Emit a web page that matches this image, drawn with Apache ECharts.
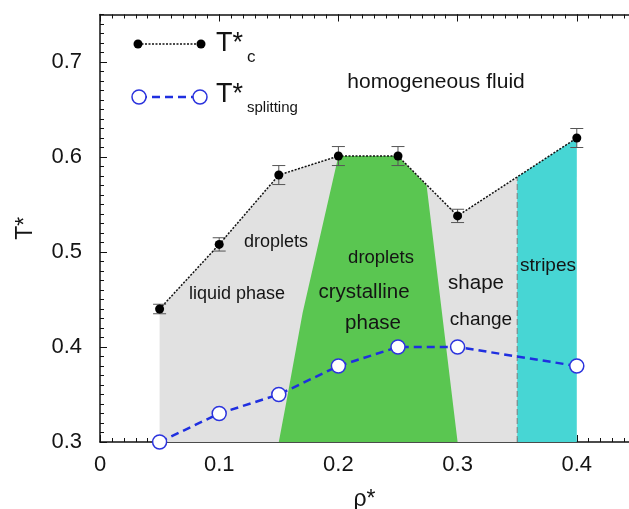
<!DOCTYPE html>
<html>
<head>
<meta charset="utf-8">
<script src="https://cdn.jsdelivr.net/npm/echarts@6/dist/echarts.min.js"></script>
<style>
  html, body { margin: 0; padding: 0; background: #fff; }
  #chart { width: 629px; height: 509px; }
</style>
</head>
<body>
<div id="chart"></div>
<script>
// Reduced density and temperature of the measured points
const rho = [0.05, 0.1, 0.15, 0.2, 0.25, 0.3, 0.4];
const tCritical = [0.44, 0.508, 0.581, 0.601, 0.601, 0.538, 0.62];
const tCriticalErr = [0.005, 0.007, 0.01, 0.01, 0.01, 0.007, 0.01];
const tSplitting = [0.30, 0.33, 0.35, 0.38, 0.40, 0.40, 0.38];

// Phase regions as (rho, T) outlines
const liquidRegion = [[0.05, 0.3], [0.05, 0.44], [0.1, 0.508], [0.15, 0.581], [0.2, 0.601],
                      [0.25, 0.601], [0.3, 0.538], [0.35, 0.579], [0.35, 0.3]];
const crystalRegion = [[0.15, 0.3], [0.156, 0.34], [0.17, 0.436], [0.2, 0.601], [0.25, 0.601],
                       [0.274, 0.57], [0.3, 0.3]];
const stripesRegion = [[0.35, 0.3], [0.35, 0.579], [0.4, 0.62], [0.4, 0.3]];
const stripesEdge = [[0.35, 0.3], [0.35, 0.579]];

// axis extents (the frame runs up to the right edge of the view)
const X_MIN = 0, X_MAX = 0.4438;
const Y_MIN = 0.3, Y_MAX = 0.75;

const FONT = 'Liberation Sans, Arial, Helvetica, sans-serif';
const TEXT = '#141414';

const chart = echarts.init(document.getElementById('chart'), null, { renderer: 'canvas' });

function regionSeries(points, color, z) {
  return {
    type: 'custom',
    z: z,
    silent: true,
    data: points,
    renderItem: function (params, api) {
      if (params.dataIndex !== 0) return null;
      return {
        type: 'polygon',
        shape: { points: points.map(p => api.coord(p)) },
        style: { fill: color, stroke: null }
      };
    }
  };
}

const labelFormatter = v => (Math.abs(v * 10 - Math.round(v * 10)) < 1e-6 ? String(+v.toFixed(1)) : '');

const tickAxisBase = {
  min: X_MIN, max: X_MAX, type: 'value',
  axisLine: { show: false }, splitLine: { show: false }, axisLabel: { show: false }
};
const yTickBase = {
  min: Y_MIN, max: Y_MAX, type: 'value',
  axisLine: { show: false }, splitLine: { show: false }, axisLabel: { show: false }
};

const option = {
  animation: false,
  backgroundColor: '#fff',
  grid: { left: 100, right: 0, top: 14.5, bottom: 67, containLabel: false, outerBoundsMode: 'none' },
  xAxis: [
    {
      type: 'value', position: 'bottom', min: X_MIN, max: X_MAX, interval: 0.1,
      name: 'ρ*', nameLocation: 'middle', nameGap: 46,
      nameTextStyle: { fontFamily: FONT, fontSize: 23, color: TEXT },
      axisLine: { show: true, lineStyle: { color: '#111', width: 1.5 } },
      axisTick: { show: true, inside: true, length: 7, lineStyle: { color: '#111', width: 1 } },
      axisLabel: {
        show: true, margin: 12, fontFamily: FONT, fontSize: 22, color: TEXT,
        showMaxLabel: false, formatter: labelFormatter
      },
      splitLine: { show: false }
    },
    Object.assign({}, tickAxisBase, {
      position: 'bottom', interval: 0.01,
      axisTick: { show: true, inside: true, length: 4, lineStyle: { color: '#111', width: 1 } }
    }),
    Object.assign({}, tickAxisBase, {
      position: 'top', interval: 0.1,
      axisLine: { show: true, lineStyle: { color: '#111', width: 1.5 } },
      axisTick: { show: true, inside: true, length: 7, lineStyle: { color: '#111', width: 1 } }
    }),
    Object.assign({}, tickAxisBase, {
      position: 'top', interval: 0.01,
      axisTick: { show: true, inside: true, length: 4, lineStyle: { color: '#111', width: 1 } }
    })
  ],
  yAxis: [
    {
      type: 'value', position: 'left', min: Y_MIN, max: Y_MAX, interval: 0.1,
      name: 'T*', nameLocation: 'middle', nameGap: 63, nameRotate: 90,
      nameTextStyle: { fontFamily: FONT, fontSize: 23, color: TEXT },
      axisLine: { show: true, lineStyle: { color: '#111', width: 1.5 } },
      axisTick: { show: true, inside: true, length: 7, lineStyle: { color: '#111', width: 1 } },
      axisLabel: {
        show: true, margin: 18, fontFamily: FONT, fontSize: 22, color: TEXT,
        showMaxLabel: false, formatter: labelFormatter
      },
      splitLine: { show: false }
    },
    Object.assign({}, yTickBase, {
      position: 'left', interval: 0.01,
      axisTick: { show: true, inside: true, length: 4, lineStyle: { color: '#111', width: 1 } }
    })
  ],
  series: [
    regionSeries(liquidRegion, '#e1e1e1', 1),
    regionSeries(crystalRegion, '#5ac651', 2),
    regionSeries(stripesRegion, '#47d6d4', 3),
    {
      type: 'line', z: 4, silent: true, symbol: 'none',
      data: stripesEdge,
      lineStyle: { color: '#7a7a7a', width: 1, type: [6, 3] }
    },
    {
      // error bars on the critical temperature
      type: 'custom', z: 5, silent: true,
      data: rho.map((r, i) => [r, tCritical[i], tCriticalErr[i]]),
      renderItem: function (params, api) {
        const x = api.value(0), y = api.value(1), e = api.value(2);
        const top = api.coord([x, y + e]);
        const bot = api.coord([x, y - e]);
        const hw = 6.5;
        const st = { stroke: '#555', lineWidth: 1 };
        return {
          type: 'group',
          children: [
            { type: 'line', shape: { x1: top[0], y1: top[1], x2: bot[0], y2: bot[1] }, style: st },
            { type: 'line', shape: { x1: top[0] - hw, y1: top[1], x2: top[0] + hw, y2: top[1] }, style: st },
            { type: 'line', shape: { x1: bot[0] - hw, y1: bot[1], x2: bot[0] + hw, y2: bot[1] }, style: st }
          ]
        };
      }
    },
    {
      name: 'T*c', type: 'line', z: 6,
      data: rho.map((r, i) => [r, tCritical[i]]),
      symbol: 'circle', symbolSize: 9, showAllSymbol: true,
      itemStyle: { color: '#000' },
      lineStyle: { color: '#111', width: 1.5, type: [2, 1.5] }
    },
    {
      name: 'T*splitting', type: 'line', z: 7,
      data: rho.map((r, i) => [r, tSplitting[i]]),
      symbol: 'circle', symbolSize: 14, showAllSymbol: true,
      itemStyle: { color: '#fff', borderColor: '#2b33dd', borderWidth: 1.5 },
      lineStyle: { color: '#1f2fe0', width: 2.5, type: [8, 5] }
    }
  ],
  graphic: [
    // legend
    { type: 'line', shape: { x1: 138, y1: 44, x2: 201, y2: 44 }, style: { stroke: '#111', lineWidth: 1.5, lineDash: [2, 1.5] }, z: 10 },
    { type: 'circle', shape: { cx: 138, cy: 44, r: 4.5 }, style: { fill: '#000' }, z: 11 },
    { type: 'circle', shape: { cx: 201, cy: 44, r: 4.5 }, style: { fill: '#000' }, z: 11 },
    { type: 'text', x: 216, y: 44, style: { text: 'T*', font: '27px ' + FONT, fill: TEXT, textVerticalAlign: 'middle' }, z: 11 },
    { type: 'text', x: 247, y: 57, style: { text: 'c', font: '17px ' + FONT, fill: TEXT, textVerticalAlign: 'middle' }, z: 11 },
    { type: 'line', shape: { x1: 139, y1: 97, x2: 200, y2: 97 }, style: { stroke: '#1f2fe0', lineWidth: 2.5, lineDash: [8, 5] }, z: 10 },
    { type: 'circle', shape: { cx: 139, cy: 97, r: 7 }, style: { fill: '#fff', stroke: '#2b33dd', lineWidth: 1.5 }, z: 11 },
    { type: 'circle', shape: { cx: 200, cy: 97, r: 7 }, style: { fill: '#fff', stroke: '#2b33dd', lineWidth: 1.5 }, z: 11 },
    { type: 'text', x: 216, y: 95, style: { text: 'T*', font: '27px ' + FONT, fill: TEXT, textVerticalAlign: 'middle' }, z: 11 },
    { type: 'text', x: 247, y: 108, style: { text: 'splitting', font: '15px ' + FONT, fill: TEXT, textVerticalAlign: 'middle' }, z: 11 },
    // region labels
    { type: 'text', x: 436, y: 82, style: { text: 'homogeneous fluid', font: '21px ' + FONT, fill: TEXT, textAlign: 'center', textVerticalAlign: 'middle' }, z: 11 },
    { type: 'text', x: 276, y: 242, style: { text: 'droplets', font: '18px ' + FONT, fill: TEXT, textAlign: 'center', textVerticalAlign: 'middle' }, z: 11 },
    { type: 'text', x: 237, y: 294, style: { text: 'liquid phase', font: '18px ' + FONT, fill: TEXT, textAlign: 'center', textVerticalAlign: 'middle' }, z: 11 },
    { type: 'text', x: 381, y: 258, style: { text: 'droplets', font: '18.5px ' + FONT, fill: TEXT, textAlign: 'center', textVerticalAlign: 'middle' }, z: 11 },
    { type: 'text', x: 364, y: 292, style: { text: 'crystalline', font: '20.5px ' + FONT, fill: TEXT, textAlign: 'center', textVerticalAlign: 'middle' }, z: 11 },
    { type: 'text', x: 373, y: 323, style: { text: 'phase', font: '20.5px ' + FONT, fill: TEXT, textAlign: 'center', textVerticalAlign: 'middle' }, z: 11 },
    { type: 'text', x: 476, y: 283, style: { text: 'shape', font: '20.5px ' + FONT, fill: TEXT, textAlign: 'center', textVerticalAlign: 'middle' }, z: 11 },
    { type: 'text', x: 481, y: 320, style: { text: 'change', font: '19px ' + FONT, fill: TEXT, textAlign: 'center', textVerticalAlign: 'middle' }, z: 11 },
    { type: 'text', x: 548, y: 266, style: { text: 'stripes', font: '19px ' + FONT, fill: TEXT, textAlign: 'center', textVerticalAlign: 'middle' }, z: 11 }
  ]
};

chart.setOption(option);
</script>
</body>
</html>
